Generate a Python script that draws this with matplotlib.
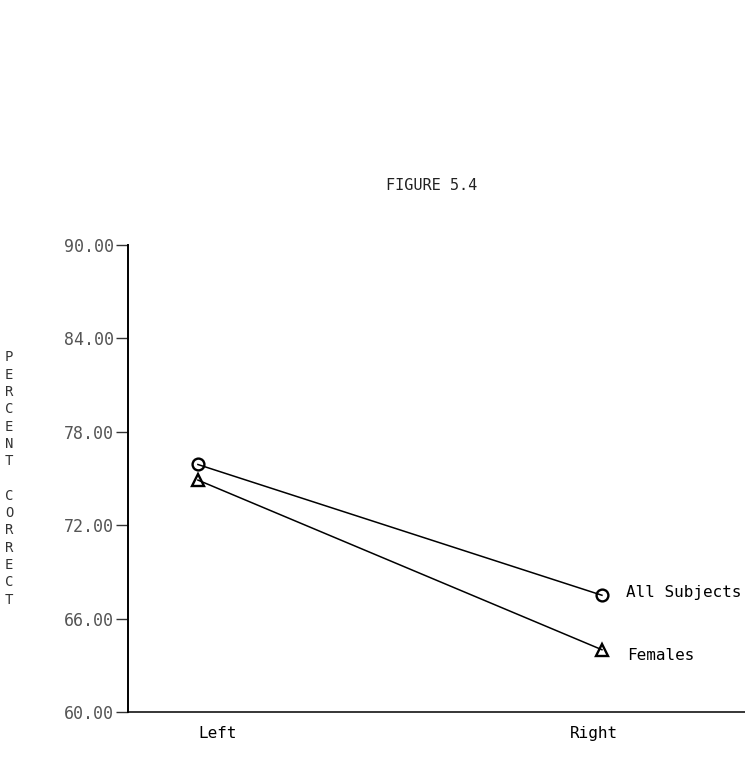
import matplotlib.pyplot as plt

# chart values
sides = ['Left', 'Right']
all_subjects = [75.9, 67.5]
females = [74.9, 64.0]
yticks = [60, 66, 72, 78, 84, 90]
ylabel = 'PERCENT CORRECT'

mono = 'DejaVu Sans Mono'

fig = plt.figure(figsize=(7.45, 7.82), dpi=100)
ax = fig.add_axes([0.1718, 0.0895, 0.8282, 0.5972])

x = list(range(len(sides)))
ax.plot(x, all_subjects, color='black', lw=1.1, marker='o', ms=8.5,
        mfc='none', mec='black', mew=1.7)
ax.plot(x, females, color='black', lw=1.1, marker='^', ms=8.5,
        mfc='none', mec='black', mew=1.7)

ax.annotate('All Subjects', (x[-1], all_subjects[-1]), xytext=(17, 2),
            textcoords='offset points', va='center', ha='left',
            fontsize=11.5, family=mono)
ax.annotate('Females', (x[-1], females[-1]), xytext=(18, -4),
            textcoords='offset points', va='center', ha='left',
            fontsize=11.5, family=mono)

ax.set_xlim(-0.173, 1.354)
ax.set_ylim(60, 90)
ax.set_yticks(yticks)
ax.set_yticklabels(['%.2f' % v for v in yticks], family=mono, fontsize=12,
                   color='#555555')
ax.tick_params(axis='y', length=9, width=1, pad=1, color='#333333')
ax.set_xticks([0.05, 0.98])
ax.set_xticklabels(sides, family=mono, fontsize=11.5)
ax.tick_params(axis='x', length=0, pad=10)

ax.spines['top'].set_visible(False)
ax.spines['right'].set_visible(False)
ax.spines['left'].set_linewidth(1.4)
ax.spines['bottom'].set_linewidth(1.1)

fig.text(0.58, 0.763, 'FIGURE 5.4', ha='center', va='center',
         fontsize=11, family=mono, color='#222222')
fig.text(0.012, 0.552, '\n'.join(ylabel), ha='center', va='top',
         fontsize=10, family=mono, color='#333333', linespacing=1.3)

fig.savefig('out.png', dpi=100)
